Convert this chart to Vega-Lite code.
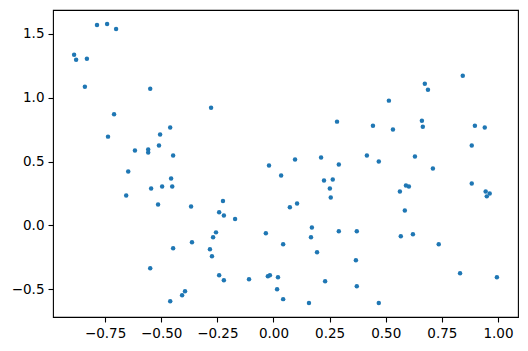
{
  "$schema": "https://vega.github.io/schema/vega-lite/v6.json",
  "width": 465,
  "height": 307,
  "autosize": {"type": "none"},
  "padding": {"left": 53, "top": 10, "right": 10, "bottom": 34},
  "background": "white",
  "config": {
    "view": {"stroke": "black", "strokeWidth": 1.1},
    "axis": {
      "domain": false,
      "grid": false,
      "ticks": true,
      "tickColor": "black",
      "tickSize": 5,
      "tickWidth": 1.1,
      "labelFont": "DejaVu Sans",
      "labelFontSize": 13.5,
      "labelColor": "black",
      "labelPadding": 4,
      "title": null
    }
  },
  "data": {"values": [
    {"x": -0.786, "y": 1.570}, {"x": -0.741, "y": 1.578}, {"x": -0.701, "y": 1.539},
    {"x": -0.888, "y": 1.336}, {"x": -0.879, "y": 1.297}, {"x": -0.831, "y": 1.305},
    {"x": -0.840, "y": 1.086}, {"x": -0.549, "y": 1.070}, {"x": -0.278, "y": 0.922},
    {"x": -0.710, "y": 0.870}, {"x": -0.460, "y": 0.766}, {"x": -0.737, "y": 0.695},
    {"x": -0.505, "y": 0.711}, {"x": -0.510, "y": 0.625}, {"x": -0.617, "y": 0.586},
    {"x": -0.558, "y": 0.594}, {"x": -0.558, "y": 0.570}, {"x": -0.447, "y": 0.547},
    {"x": -0.647, "y": 0.422}, {"x": -0.456, "y": 0.367}, {"x": -0.545, "y": 0.289},
    {"x": -0.496, "y": 0.305}, {"x": -0.451, "y": 0.305}, {"x": -0.656, "y": 0.234},
    {"x": -0.514, "y": 0.164}, {"x": -0.367, "y": 0.148}, {"x": -0.363, "y": -0.133},
    {"x": -0.447, "y": -0.180}, {"x": -0.283, "y": -0.188}, {"x": -0.274, "y": -0.242},
    {"x": -0.549, "y": -0.336}, {"x": -0.394, "y": -0.516}, {"x": -0.407, "y": -0.547},
    {"x": -0.460, "y": -0.594}, {"x": 0.283, "y": 0.8125}, {"x": -0.020, "y": 0.469},
    {"x": 0.096, "y": 0.516}, {"x": 0.034, "y": 0.391}, {"x": 0.212, "y": 0.531},
    {"x": 0.291, "y": 0.477}, {"x": 0.225, "y": 0.352}, {"x": 0.264, "y": 0.359},
    {"x": 0.251, "y": 0.289}, {"x": 0.255, "y": 0.219}, {"x": -0.225, "y": 0.190},
    {"x": -0.242, "y": 0.102}, {"x": -0.221, "y": 0.078}, {"x": -0.171, "y": 0.050},
    {"x": 0.073, "y": 0.141}, {"x": 0.105, "y": 0.172}, {"x": -0.256, "y": -0.055},
    {"x": -0.269, "y": -0.094}, {"x": -0.242, "y": -0.391}, {"x": -0.221, "y": -0.430},
    {"x": -0.109, "y": -0.422}, {"x": -0.034, "y": -0.0625}, {"x": 0.043, "y": -0.148},
    {"x": -0.025, "y": -0.398}, {"x": -0.016, "y": -0.391}, {"x": 0.020, "y": -0.406},
    {"x": 0.016, "y": -0.500}, {"x": 0.043, "y": -0.578}, {"x": 0.171, "y": -0.016},
    {"x": 0.167, "y": -0.094}, {"x": 0.194, "y": -0.211}, {"x": 0.291, "y": -0.047},
    {"x": 0.371, "y": -0.047}, {"x": 0.367, "y": -0.273}, {"x": 0.371, "y": -0.477},
    {"x": 0.230, "y": -0.4375}, {"x": 0.158, "y": -0.609}, {"x": 0.843, "y": 1.172},
    {"x": 0.674, "y": 1.109}, {"x": 0.688, "y": 1.0625}, {"x": 0.514, "y": 0.977},
    {"x": 0.443, "y": 0.781}, {"x": 0.532, "y": 0.750}, {"x": 0.661, "y": 0.820},
    {"x": 0.665, "y": 0.773}, {"x": 0.897, "y": 0.781}, {"x": 0.941, "y": 0.766},
    {"x": 0.883, "y": 0.625}, {"x": 0.416, "y": 0.547}, {"x": 0.469, "y": 0.500},
    {"x": 0.630, "y": 0.539}, {"x": 0.710, "y": 0.445}, {"x": 0.883, "y": 0.328},
    {"x": 0.945, "y": 0.266}, {"x": 0.963, "y": 0.250}, {"x": 0.950, "y": 0.227},
    {"x": 0.590, "y": 0.3125}, {"x": 0.603, "y": 0.305}, {"x": 0.563, "y": 0.266},
    {"x": 0.585, "y": 0.117}, {"x": 0.567, "y": -0.086}, {"x": 0.621, "y": -0.070},
    {"x": 0.736, "y": -0.148}, {"x": 0.831, "y": -0.375}, {"x": 0.995, "y": -0.406},
    {"x": 0.469, "y": -0.609}
  ]},
  "mark": {"type": "point", "filled": true, "size": 20, "opacity": 1, "color": "#1f77b4"},
  "encoding": {
    "x": {
      "field": "x", "type": "quantitative",
      "scale": {"domain": [-0.982, 1.089], "nice": false, "zero": false},
      "axis": {"values": [-0.75, -0.5, -0.25, 0, 0.25, 0.5, 0.75, 1.0], "format": ".2f"}
    },
    "y": {
      "field": "y", "type": "quantitative",
      "scale": {"domain": [-0.718, 1.687], "nice": false, "zero": false},
      "axis": {"values": [-0.5, 0, 0.5, 1.0, 1.5], "format": ".1f"}
    }
  }
}
